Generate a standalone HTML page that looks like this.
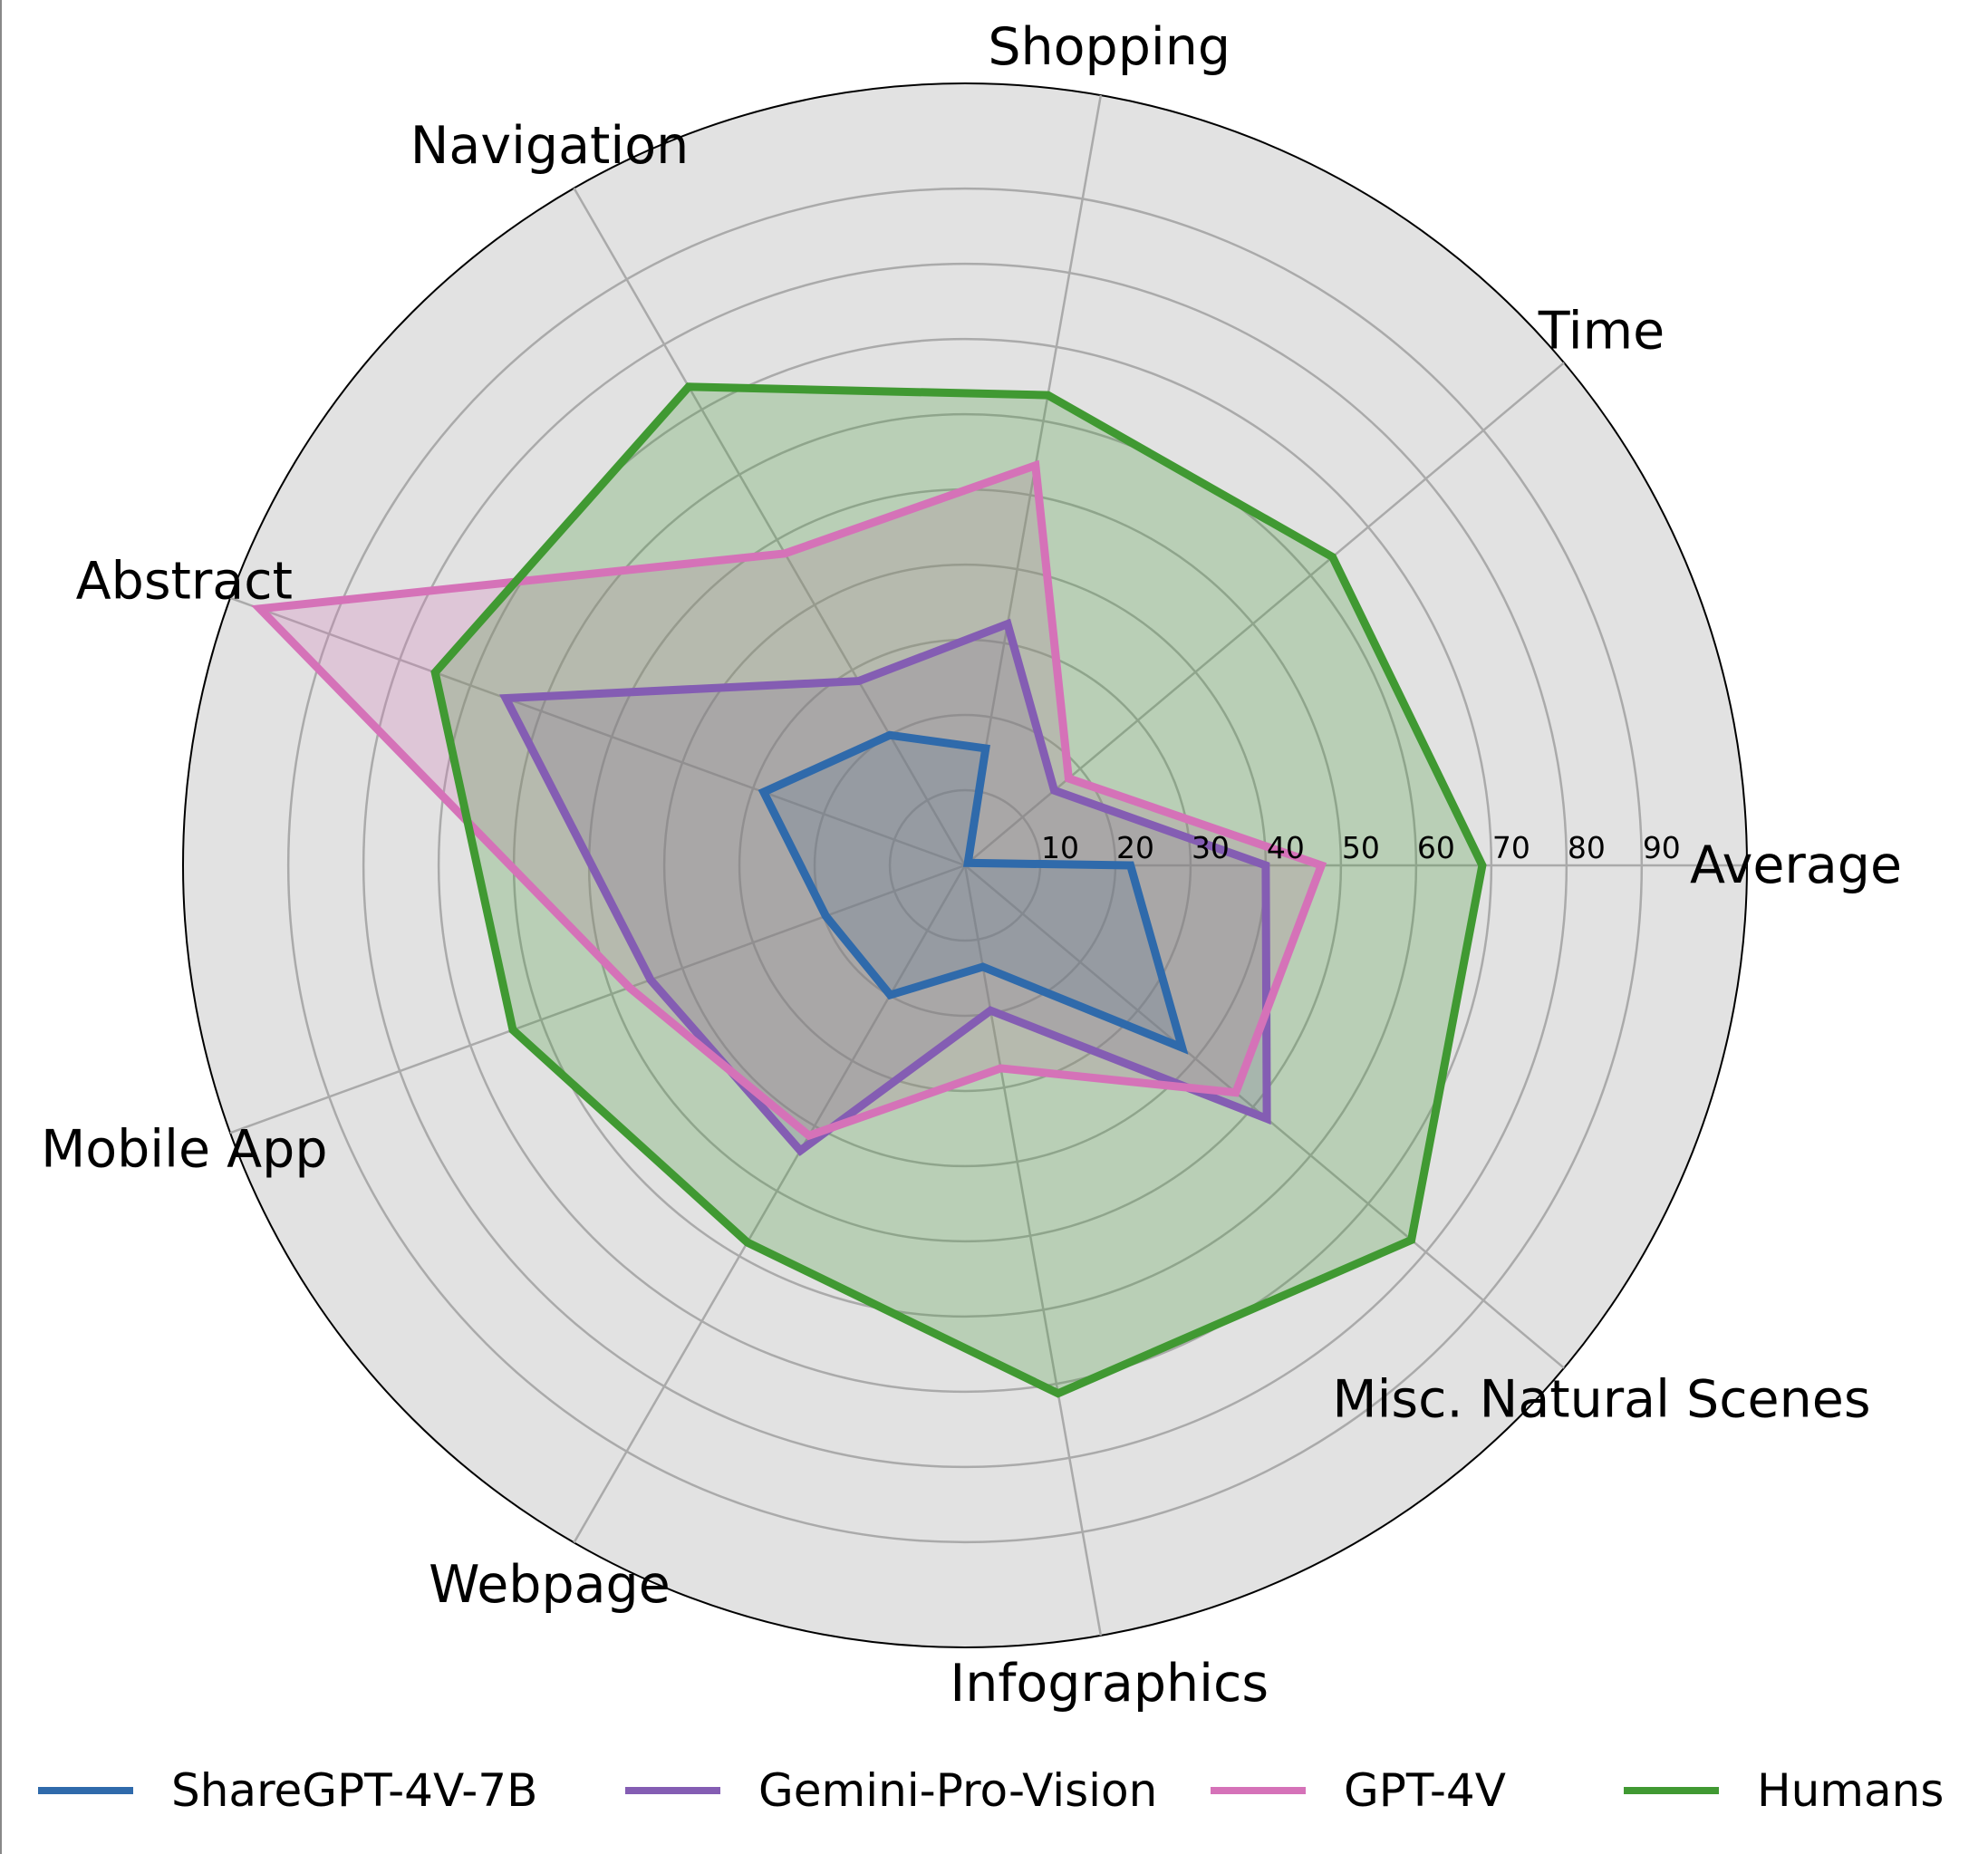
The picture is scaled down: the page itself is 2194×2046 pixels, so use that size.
<!DOCTYPE html>
<html><head><meta charset="utf-8"><style>
html,body{margin:0;padding:0;background:#fff;}
svg{display:block;font-family:"DejaVu Sans","Liberation Sans",sans-serif;}
</style></head><body>
<svg id="chart" width="2194" height="2046" viewBox="0 0 2194 2046" xmlns="http://www.w3.org/2000/svg">
<line x1="1" y1="0" x2="1" y2="2046" stroke="#888" stroke-width="2"/>
<g id="grid"></g><g id="series"></g><g id="labels"></g><g id="legend"></g>
</svg>
<script>
const categories = ["Average","Time","Shopping","Navigation","Abstract","Mobile App","Webpage","Infographics","Misc. Natural Scenes"];
const tickValues = [10,20,30,40,50,60,70,80,90];
const seriesNames = ["ShareGPT-4V-7B","Gemini-Pro-Vision","GPT-4V","Humans"];
const shareGPT = [22, 0.5, 15.8, 20, 28.5, 19.7, 19.9, 13.7, 37.7];
const gemini = [40, 15.5, 32.6, 28.3, 65, 44.5, 43.8, 19.6, 52.4];
const gpt4v = [47.4, 18, 54, 47.9, 99.8, 47.5, 41.5, 27.4, 47];
const humans = [68.8, 63.8, 63.5, 73.5, 75, 64, 57.9, 71.3, 77.5];
const seriesData = [shareGPT, gemini, gpt4v, humans];
const colors = ["#2f6aab","#845db3","#d572b8","#409932"];

const NS="http://www.w3.org/2000/svg";
const cx=1065, cy=955, rMax=104, R=863;
const rad=v=>v/rMax*R;
const ang=i=>i*2*Math.PI/categories.length;
const pt=(i,v)=>[cx+rad(v)*Math.cos(ang(i)), cy-rad(v)*Math.sin(ang(i))];
function mk(tag,attrs,parent){const e=document.createElementNS(NS,tag);for(const k in attrs)e.setAttribute(k,attrs[k]);parent.appendChild(e);return e;}
const grid=document.getElementById('grid');
const bg=mk('circle',{cx:cx,cy:cy,r:R,fill:'#e2e2e2',stroke:'#000','stroke-width':2},grid);


tickValues.forEach(v=>{
  const c=mk('circle',{cx:cx,cy:cy,r:rad(v),fill:'none',stroke:'#aaaaaa','stroke-width':2.5},grid);
  
  
});
categories.forEach((c,i)=>{
  const [x,y]=pt(i,rMax);
  const l=mk('line',{x1:cx,y1:cy,x2:x,y2:y,stroke:'#aaaaaa','stroke-width':2.5},grid);
  
  
});
const ser=document.getElementById('series');
seriesData.forEach((d,s)=>{
  const p=d.map((v,i)=>pt(i,v).map(n=>n.toFixed(1)).join(',')).join(' ');
  const f=mk('polygon',{points:p,fill:colors[s],'fill-opacity':0.25,stroke:'none'},ser);
  
  
});
seriesData.forEach((d,s)=>{
  const p=d.map((v,i)=>pt(i,v).map(n=>n.toFixed(1)).join(',')).join(' ');
  const l=mk('polygon',{points:p,fill:'none',stroke:colors[s],'stroke-width':9,'stroke-linejoin':'miter'},ser);
  
  
});
const lab=document.getElementById('labels');
tickValues.forEach(v=>{
  const t=mk('text',{x:cx+rad(v)+22,y:947,'font-size':33,'text-anchor':'middle',fill:'#000'},lab);
  t.textContent=v;
  
  
});
categories.forEach((c,i)=>{
  const r=917;
  const x=cx+r*Math.cos(ang(i)), y=cy-r*Math.sin(ang(i));
  const t=mk('text',{x:x,y:y+19,'font-size':57,'text-anchor':'middle',fill:'#000'},lab);
  t.textContent=c;
  
  
});
const leg=document.getElementById('legend');
const legX=[42,690,1336,1792];
seriesNames.forEach((n,s)=>{
  const g=mk('g',{},leg);
  
  
  mk('line',{x1:legX[s],y1:1976,x2:legX[s]+105,y2:1976,stroke:colors[s],'stroke-width':8},g);
  const t=mk('text',{x:legX[s]+147,y:1993,'font-size':50,fill:'#000'},g);
  t.textContent=n;
});
</script>
</body></html>
